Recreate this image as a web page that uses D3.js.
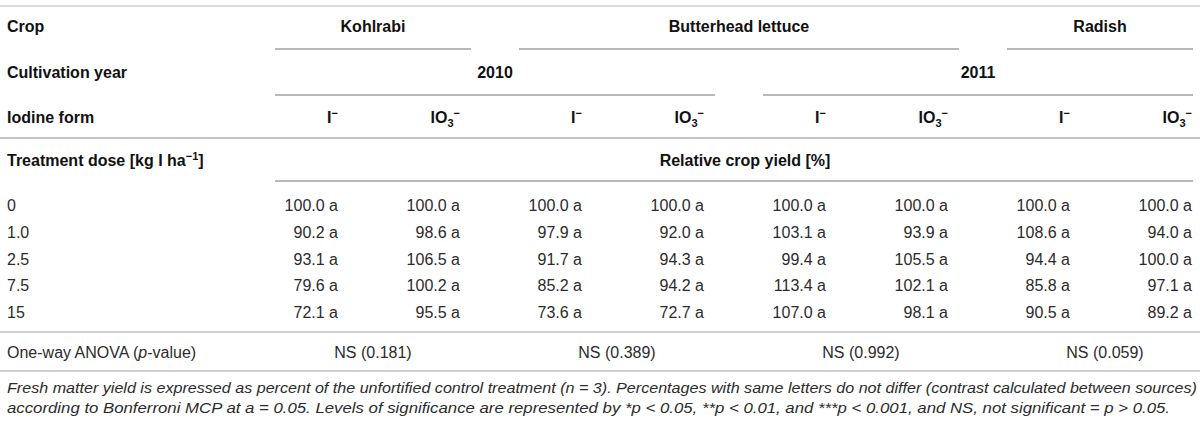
<!DOCTYPE html>
<html>
<head>
<meta charset="utf-8">
<script src="https://cdn.jsdelivr.net/npm/d3@7"></script>
<style>
    body { margin: 0; background: #fff; }
    svg { display: block; font-family: "Liberation Sans", Arial, sans-serif; }
</style>
</head>
<body>
<svg width="1200" height="423"></svg>
<script>
// table values
var crops = ["Kohlrabi", "Butterhead lettuce", "Radish"];
var cropSpans = [[0, 2], [2, 6], [6, 8]];
var years = ["2010", "2011"];
var yearSpans = [[0, 4], [4, 8]];
var forms = ["I", "IO3", "I", "IO3", "I", "IO3", "I", "IO3"];
var doses = ["0", "1.0", "2.5", "7.5", "15"];

var kohlrabiI = [100.0, 90.2, 93.1, 79.6, 72.1];
var kohlrabiIO3 = [100.0, 98.6, 106.5, 100.2, 95.5];
var lettuce10I = [100.0, 97.9, 91.7, 85.2, 73.6];
var lettuce10IO3 = [100.0, 92.0, 94.3, 94.2, 72.7];
var lettuce11I = [100.0, 103.1, 99.4, 113.4, 107.0];
var lettuce11IO3 = [100.0, 93.9, 105.5, 102.1, 98.1];
var radishI = [100.0, 108.6, 94.4, 85.8, 90.5];
var radishIO3 = [100.0, 94.0, 100.0, 97.1, 89.2];
var letters = ["a", "a", "a", "a", "a"];

var anova = ["NS (0.181)", "NS (0.389)", "NS (0.992)", "NS (0.059)"];

var footnote = [
    "Fresh matter yield is expressed as percent of the unfortified control treatment (n = 3). Percentages with same letters do not differ (contrast calculated between sources)",
    "according to Bonferroni MCP at a = 0.05. Levels of significance are represented by *p < 0.05, **p < 0.01, and ***p < 0.001, and NS, not significant = p > 0.05."
];

var columns = [kohlrabiI, kohlrabiIO3, lettuce10I, lettuce10IO3,
               lettuce11I, lettuce11IO3, radishI, radishIO3];

var svg = d3.select("svg");
var W = 1200;
var left = 7;
var gap = 48;
var lineEnd = 1193;

// column grid
var x = d3.scaleLinear().domain([0, 8]).range([275, 1251]);
function colRight(i) { return x(i + 1) - 59; }
function spanEnd(e) { return Math.min(x(e) - gap, lineEnd); }

// row positions (text centres)
var headY = {crop: 26, year: 72, form: 117, unit: 160};
var y = d3.scalePoint().domain(doses).range([205, 312]);
var anovaY = 352;

var hlines = [
    {x1: 0, x2: W, y: 6, c: "#cfcfcf"},
    {x1: 0, x2: W, y: 138, c: "#b0b0b0"},
    {x1: x(0), x2: lineEnd, y: 181, c: "#a0a0a0"},
    {x1: 0, x2: W, y: 332, c: "#c0c0c0"},
    {x1: 0, x2: W, y: 371, c: "#c0c0c0"}
];
cropSpans.forEach(function(s) {
    hlines.push({x1: x(s[0]), x2: spanEnd(s[1]), y: 49, c: "#a0a0a0"});
});
yearSpans.forEach(function(s) {
    hlines.push({x1: x(s[0]), x2: spanEnd(s[1]), y: 95, c: "#a0a0a0"});
});

svg.append("g").attr("class", "rules")
    .selectAll("line")
    .data(hlines)
    .enter().append("line")
    .attr("x1", function(d) { return d.x1; })
    .attr("x2", function(d) { return d.x2; })
    .attr("y1", function(d) { return d.y; })
    .attr("y2", function(d) { return d.y; })
    .style("stroke", function(d) { return d.c; })
    .style("stroke-width", 1.5);

var base = 6; // text centre -> baseline

var head = svg.append("g").attr("class", "head")
    .style("font-weight", "bold")
    .style("font-size", "16px")
    .style("fill", "#111");

// left labels
head.append("text").attr("x", left).attr("y", headY.crop + base).text("Crop");
head.append("text").attr("x", left).attr("y", headY.year + base).text("Cultivation year");
head.append("text").attr("x", left).attr("y", headY.form + base).text("Iodine form");
var td = head.append("text").attr("x", left).attr("y", headY.unit + base);
td.append("tspan").text("Treatment dose [kg I ha");
td.append("tspan").attr("dy", -6).style("font-size", "11px").text("\u22121");
td.append("tspan").attr("dy", 6).text("]");

head.selectAll("text.crop")
    .data(crops)
    .enter().append("text")
    .attr("class", "crop")
    .attr("text-anchor", "middle")
    .attr("x", function(d, i) { return (x(cropSpans[i][0]) + spanEnd(cropSpans[i][1])) / 2; })
    .attr("y", headY.crop + base)
    .text(function(d) { return d; });

head.selectAll("text.year")
    .data(years)
    .enter().append("text")
    .attr("class", "year")
    .attr("text-anchor", "middle")
    .attr("x", function(d, i) { return (x(yearSpans[i][0]) + spanEnd(yearSpans[i][1])) / 2; })
    .attr("y", headY.year + base)
    .text(function(d) { return d; });

var formText = head.selectAll("text.form")
    .data(forms)
    .enter().append("text")
    .attr("class", "form")
    .attr("text-anchor", "end")
    .attr("x", function(d, i) { return colRight(i); })
    .attr("y", headY.form + base);
formText.each(function(d) {
    var t = d3.select(this);
    t.append("tspan").text("I");
    if (d == "IO3") {
        t.append("tspan").text("O");
        t.append("tspan").attr("dy", 4).style("font-size", "11px").text("3");
        t.append("tspan").attr("dy", -10).style("font-size", "11px").text("\u2212");
    } else {
        t.append("tspan").attr("dy", -6).style("font-size", "11px").text("\u2212");
    }
});

head.append("text")
    .attr("text-anchor", "middle")
    .attr("x", 745)
    .attr("y", headY.unit + base)
    .text("Relative crop yield [%]");

// body
var bodyG = svg.append("g").attr("class", "body")
    .style("font-size", "16px")
    .style("fill", "#2b2b2b");

bodyG.selectAll("text.dose")
    .data(doses)
    .enter().append("text")
    .attr("class", "dose")
    .attr("x", left)
    .attr("y", function(d) { return y(d) + base; })
    .text(function(d) { return d; });

columns.forEach(function(col, ci) {
    bodyG.selectAll("text.c" + ci)
        .data(col)
        .enter().append("text")
        .attr("class", "c" + ci)
        .attr("text-anchor", "end")
        .attr("x", colRight(ci))
        .attr("y", function(d, i) { return y(doses[i]) + base; })
        .text(function(d, i) { return d.toFixed(1) + " " + letters[i]; });
});

var av = bodyG.append("text").attr("x", left).attr("y", anovaY + base);
av.append("tspan").text("One-way ANOVA (");
av.append("tspan").style("font-style", "italic").text("p");
av.append("tspan").text("-value)");

bodyG.selectAll("text.anova")
    .data(anova)
    .enter().append("text")
    .attr("class", "anova")
    .attr("text-anchor", "middle")
    .attr("x", function(d, i) { return (x(i * 2) + x(i * 2 + 2) - gap) / 2; })
    .attr("y", anovaY + base)
    .text(function(d) { return d; });

// footnote
var footLen = [1190, 1163];
svg.append("g").attr("class", "foot")
    .style("font-size", "15px")
    .style("font-style", "italic")
    .style("fill", "#2b2b2b")
    .selectAll("text")
    .data(footnote)
    .enter().append("text")
    .attr("x", left)
    .attr("y", function(d, i) { return 393 + i * 20; })
    .attr("textLength", function(d, i) { return footLen[i]; })
    .attr("lengthAdjust", "spacingAndGlyphs")
    .text(function(d) { return d; });
</script>
</body>
</html>
